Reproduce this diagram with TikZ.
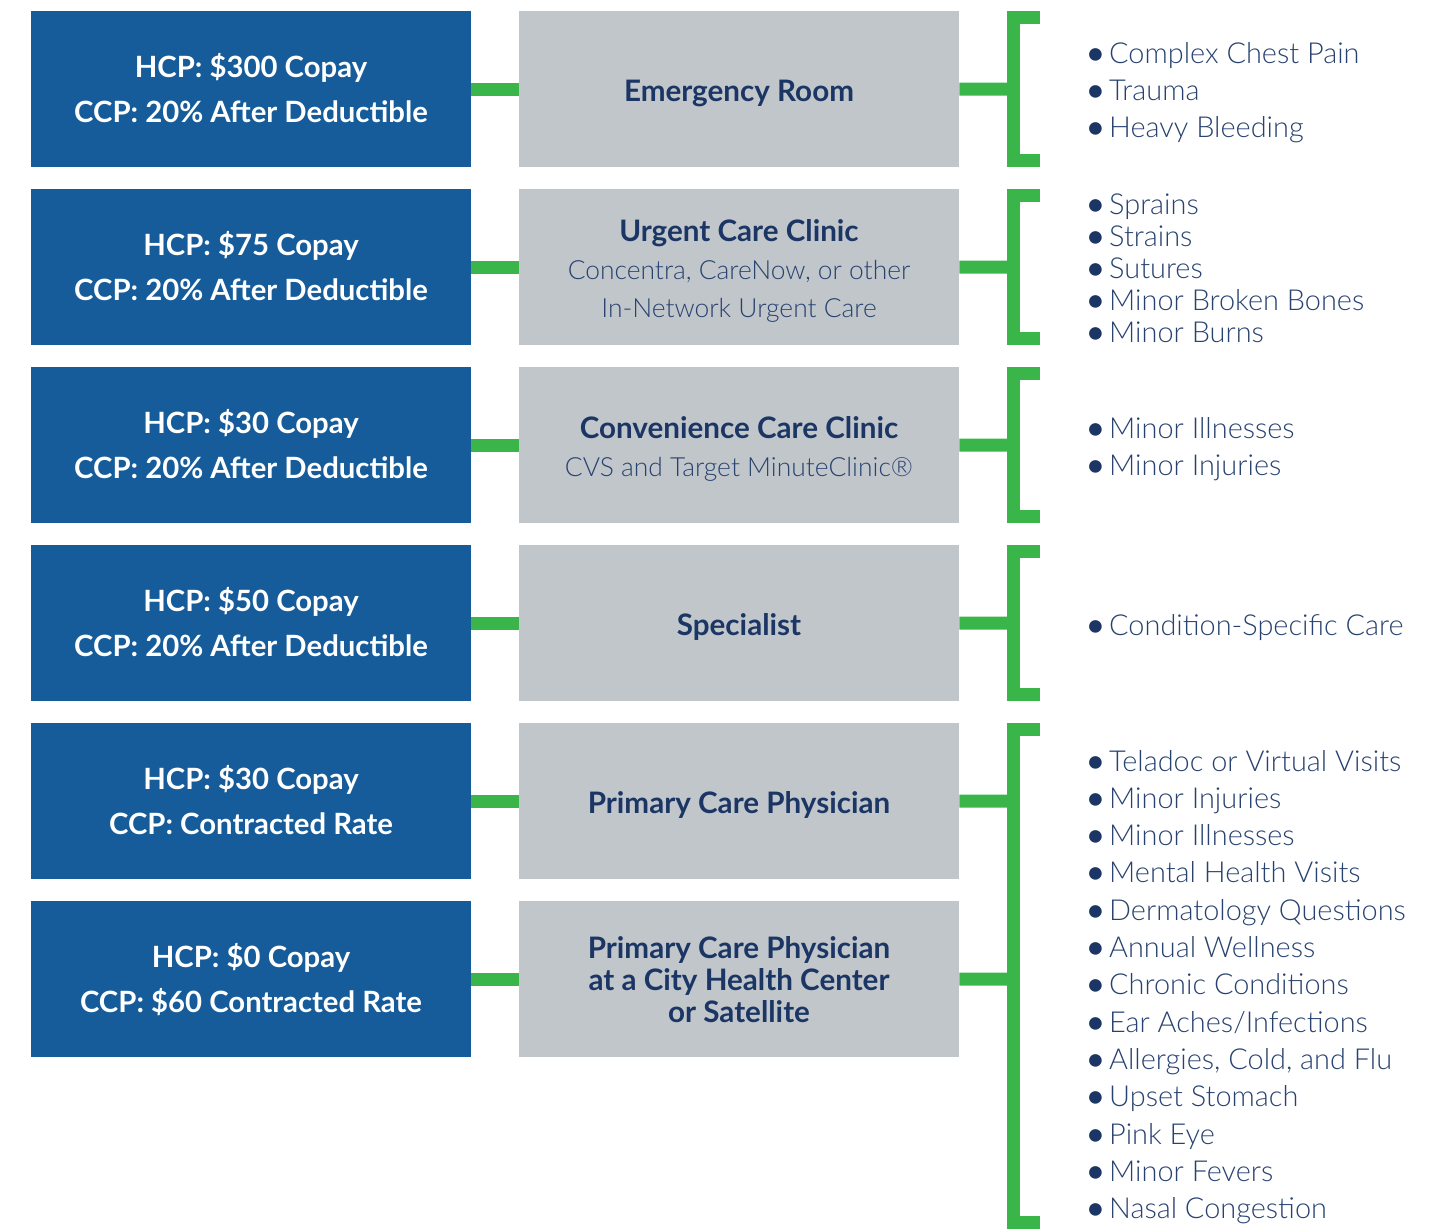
\documentclass[tikz,border=0pt]{standalone}
\usepackage{fontspec}
\setmainfont{Lato}
\newfontfamily\latolight{Lato Light}

\definecolor{costblue}{RGB}{22,92,154}
\definecolor{sitegray}{RGB}{193,198,203}
\definecolor{linkgreen}{RGB}{57,181,74}
\definecolor{titlenavy}{RGB}{27,54,100}
\definecolor{textnavy}{RGB}{40,66,112}

\newcommand{\bul}[1]{\makebox[22pt][l]{\fontspec{Lato}\bfseries\color{titlenavy}\textbullet}#1}

\begin{document}
\begin{tikzpicture}[x=1pt,y=-1pt,
  costbox/.style={fill=costblue, minimum width=440pt, minimum height=156pt, inner sep=0pt, anchor=north west},
  sitebox/.style={fill=sitegray, minimum width=440pt, minimum height=156pt, inner sep=0pt, anchor=north west},
  costtxt/.style={anchor=base, text=white, inner sep=0pt, font=\bfseries\fontsize{29.3}{29.3}\selectfont},
  sitetitle/.style={anchor=base, text=titlenavy, inner sep=0pt, font=\bfseries\fontsize{29.6}{29.6}\selectfont},
  sitesub/.style={anchor=base, text=textnavy, inner sep=0pt, font=\latolight\fontsize{26.4}{26.4}\selectfont},
  item/.style={anchor=base west, text=textnavy, inner sep=0pt, font=\latolight\fontsize{28.9}{28.9}\selectfont},
  link/.style={draw=linkgreen, line width=13pt},
  bracket/.style={draw=linkgreen, line width=13pt, line join=miter}
]
\useasboundingbox (0,0) rectangle (1443,1229);

% ---- cost boxes (left column) ----
\node[costbox] (b1) at (31,11)  {};
\node[costbox] (b2) at (31,189) {};
\node[costbox] (b3) at (31,367) {};
\node[costbox] (b4) at (31,545) {};
\node[costbox] (b5) at (31,723) {};
\node[costbox] (b6) at (31,901) {};

\node[costtxt] (b1h) at (251,77)  {HCP: \$300 Copay};
\node[costtxt] (b1c) at (251,122) {CCP: 20\% After Deductible};
\node[costtxt] (b2h) at (251,255) {HCP: \$75 Copay};
\node[costtxt] (b2c) at (251,300) {CCP: 20\% After Deductible};
\node[costtxt] (b3h) at (251,433) {HCP: \$30 Copay};
\node[costtxt] (b3c) at (251,478) {CCP: 20\% After Deductible};
\node[costtxt] (b4h) at (251,611) {HCP: \$50 Copay};
\node[costtxt] (b4c) at (251,656) {CCP: 20\% After Deductible};
\node[costtxt] (b5h) at (251,789) {HCP: \$30 Copay};
\node[costtxt] (b5c) at (251,834) {CCP: Contracted Rate};
\node[costtxt] (b6h) at (251,967) {HCP: \$0 Copay};
\node[costtxt] (b6c) at (251,1012) {CCP: \$60 Contracted Rate};

% ---- care sites (middle column) ----
\node[sitebox] (g1) at (519,11)  {};
\node[sitebox] (g2) at (519,189) {};
\node[sitebox] (g3) at (519,367) {};
\node[sitebox] (g4) at (519,545) {};
\node[sitebox] (g5) at (519,723) {};
\node[sitebox] (g6) at (519,901) {};

\node[sitetitle] (g1t) at (739,101) {Emergency Room};
\node[sitetitle] (g2t) at (739,241) {Urgent Care Clinic};
\node[sitesub]   (g2a) at (739,279) {Concentra, CareNow, or other};
\node[sitesub]   (g2b) at (739,317) {In-Network Urgent Care};
\node[sitetitle] (g3t) at (739,438) {Convenience Care Clinic};
\node[sitesub]   (g3a) at (739,476) {CVS and Target MinuteClinic®};
\node[sitetitle] (g4t) at (739,635) {Specialist};
\node[sitetitle] (g5t) at (739,813) {Primary Care Physician};
\node[sitetitle] (g6a) at (739,958) {Primary Care Physician};
\node[sitetitle] (g6b) at (739,990) {at a City Health Center};
\node[sitetitle] (g6c) at (739,1022) {or Satellite};

% ---- bracket attachment points ----
\coordinate (k1) at (1013.5,89);
\coordinate (k2) at (1013.5,267);
\coordinate (k3) at (1013.5,445);
\coordinate (k4) at (1013.5,623);
\coordinate (k5) at (1013.5,801);
\coordinate (k6) at (1013.5,979);

% ---- connectors ----
\foreach \i in {1,...,6} {
  \draw[link] (b\i.east) -- (g\i.west);
  \draw[link] (g\i.east) -- (k\i);
}

% ---- brackets ----
\draw[bracket] (1040,17.5)  -- (1013.5,17.5)  -- (1013.5,160.5)  -- (1040,160.5);
\draw[bracket] (1040,195.5) -- (1013.5,195.5) -- (1013.5,338.5)  -- (1040,338.5);
\draw[bracket] (1040,373.5) -- (1013.5,373.5) -- (1013.5,516.5)  -- (1040,516.5);
\draw[bracket] (1040,551.5) -- (1013.5,551.5) -- (1013.5,694.5)  -- (1040,694.5);
\draw[bracket] (1040,729.5) -- (1013.5,729.5) -- (1013.5,1222.5) -- (1040,1222.5);

% ---- condition lists ----
\foreach \t [count=\i] in {Complex Chest Pain, Trauma, Heavy Bleeding}
  \node[item] (er\i) at (1087,{63+37*(\i-1)}) {\bul{\t}};
\foreach \t [count=\i] in {Sprains, Strains, Sutures, Minor Broken Bones, Minor Burns}
  \node[item] (uc\i) at (1087,{214+32*(\i-1)}) {\bul{\t}};
\foreach \t [count=\i] in {Minor Illnesses, Minor Injuries}
  \node[item] (cc\i) at (1087,{438+37*(\i-1)}) {\bul{\t}};
\node[item] (sp1) at (1087,635) {\bul{Condition-Specific Care}};
\foreach \t [count=\i] in {Teladoc or Virtual Visits, Minor Injuries, Minor Illnesses,
    Mental Health Visits, Dermatology Questions, Annual Wellness, Chronic Conditions,
    Ear Aches/Infections, {Allergies, Cold, and Flu}, Upset Stomach, Pink Eye,
    Minor Fevers, Nasal Congestion}
  \node[item] (pc\i) at (1087,{771+37.3*(\i-1)}) {\bul{\t}};

\end{tikzpicture}
\end{document}
